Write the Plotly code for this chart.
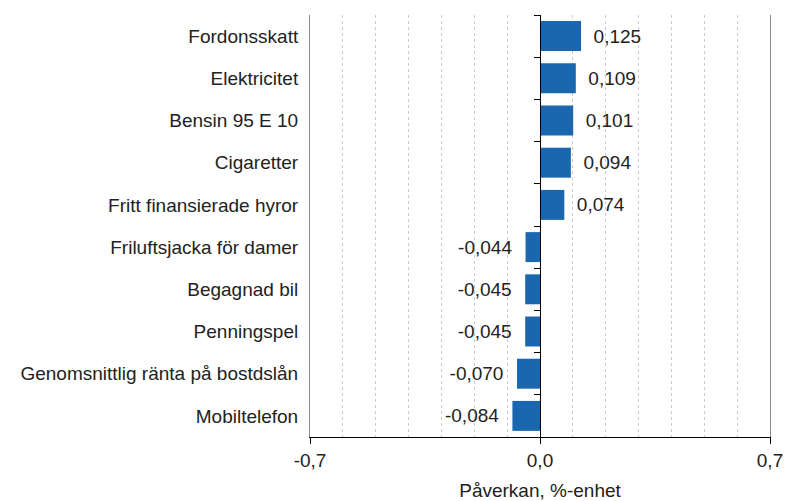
import plotly.graph_objects as go

categories = ["Fordonsskatt", "Elektricitet", "Bensin 95 E 10", "Cigaretter",
              "Fritt finansierade hyror", "Friluftsjacka för damer", "Begagnad bil",
              "Penningspel", "Genomsnittlig ränta på bostdslån", "Mobiltelefon"]
values = [0.125, 0.109, 0.101, 0.094, 0.074, -0.044, -0.045, -0.045, -0.070, -0.084]
tick_vals = [-0.7, 0.0, 0.7]
tick_text = ["-0,7", "0,0", "0,7"]
x_title = "Påverkan, %-enhet"

def fmt(v):
    s = f"{v:.3f}".replace(".", ",")
    return ("\u2002" + s) if v >= 0 else (s + "\u00a0\u00a0")

labels = [fmt(v) for v in values]
font = dict(family="Liberation Sans, Arial, sans-serif", size=19, color="#222222")

fig = go.Figure()
fig.add_trace(go.Bar(
    x=values, y=categories, orientation="h",
    marker=dict(color="#1a67b0", line=dict(width=0)),
    text=labels, textposition="outside", textfont=font,
    cliponaxis=False, hoverinfo="skip", showlegend=False,
))
fig.add_trace(go.Scatter(
    x=values, y=categories, mode="none", yaxis="y2",
    hoverinfo="skip", showlegend=False,
))

fig.update_layout(
    width=788, height=501,
    margin=dict(l=310, r=18, t=15, b=64, autoexpand=False),
    paper_bgcolor="white", plot_bgcolor="white",
    bargap=0.29,
    font=font,
    xaxis=dict(
        range=[-0.7, 0.7], tickvals=tick_vals, ticktext=tick_text,
        showline=True, linecolor="#000000", linewidth=1,
        ticks="outside", ticklen=6, tickcolor="#000000",
        showgrid=True, gridcolor="#8c8c8c", gridwidth=1,
        zeroline=False,
        minor=dict(dtick=0.1, tick0=0, showgrid=True, gridcolor="#cccccc",
                   griddash="dot", gridwidth=1, ticks=""),
        title=dict(text=x_title, font=font, standoff=15),
        tickfont=font, fixedrange=True, automargin=False,
        ticklabeloverflow="allow",
    ),
    yaxis=dict(
        type="category", categoryorder="array", categoryarray=categories[::-1],
        showline=True, linecolor="#8c8c8c", linewidth=1, mirror=True,
        ticks="", showgrid=False, zeroline=False,
        ticklabelstandoff=7, tickfont=font, automargin=False,
    ),
    yaxis2=dict(
        overlaying="y", matches="y", anchor="free", position=0.5,
        type="category", categoryorder="array", categoryarray=categories[::-1],
        showline=True, linecolor="#000000", linewidth=1,
        ticks="outside", tickson="boundaries", ticklen=6, tickcolor="#000000",
        showticklabels=False, showgrid=False, zeroline=False,
    ),
)

fig.write_html("out.html", config={"displayModeBar": False},
               post_script="document.body.style.margin='0px';")
